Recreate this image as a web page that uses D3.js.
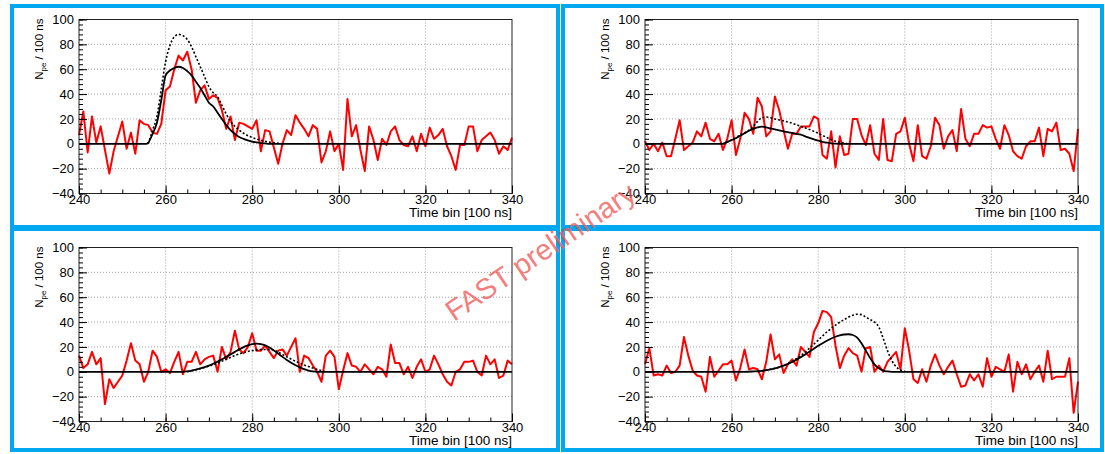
<!DOCTYPE html>
<meta charset="utf-8">
<style>
  body { margin: 0; background: #fff; }
  text { font-family: "Liberation Sans", Arial, sans-serif; }
  .grid line { stroke: #8a8a8a; stroke-width: 0.8; stroke-dasharray: 1,2; }
  .axis path { display: none; }
  .axis line { stroke: #000; stroke-width: 1; }
  .axis text { font-size: 13px; fill: #000; }
</style>
<svg width="1105" height="454"></svg>
<script src="https://d3js.org/d3.v7.min.js"></script>
<script>
  // time bins [100 ns]
  var bins = d3.range(240, 341);

  var xMajor = [240, 260, 280, 300, 320, 340];
  var xMinor = d3.range(240, 341, 5);
  var yMajor = [-40, -20, 0, 20, 40, 60, 80, 100];
  var yMinor = d3.range(-40, 101, 4);

  // measured signal, N_pe per bin (240..340)
  var data1 = [7, 26, -7, 22, 1, 14, -5, -24, -6, 6,
    18, -4, 9, -8, 19, 16, 15, 9, 8, 16,
    43, 46, 60, 71, 67, 74, 60, 33, 43, 47,
    36, 39, 37, 27, 12, 22, 3, 17, 16, 14,
    12, 19, -6, 11, 10, -3, -16, 0, 11, 7,
    23, 17, 12, 6, 15, 12, -15, -6, 10, -6,
    0, -21, 36, 6, 15, -5, -22, 14, 3, -13,
    4, -1, 10, 14, 3, -1, -2, 6, -6, 8,
    -2, 13, 4, 7, 12, -2, -10, -21, -1, -1,
    14, 14, -6, 3, 6, 9, 3, -8, -2, -5, 5];

  var data2 = [2, -5, 0, -6, 1, -10, -10, 4, 19, -5,
    -2, 1, 10, 6, 17, 4, 2, 8, -5, 4,
    19, -9, 4, 25, 20, 8, 37, 30, 6, 10,
    38, 27, 11, -4, 8, 8, 14, 14, 14, 22,
    20, -9, -12, 10, -19, 6, -9, -8, 20, 20,
    7, -1, 15, -8, -13, 20, -13, -14, 8, 10,
    21, 0, -14, 15, -10, -12, -2, 21, 15, -4,
    6, 11, -6, 28, 4, -2, 8, 8, 15, 13,
    14, 4, -4, 15, 7, -6, -10, -12, -2, 2,
    2, 13, -10, 12, 10, 17, -5, -4, -8, -22, 12];

  var data3 = [13, 3, 6, 16, 6, 11, -26, -6, -13, -8,
    -3, 9, 23, 9, 6, -8, 0, 17, 12, 0,
    2, -1, 8, 16, -2, 8, 8, 16, 6, 10,
    12, 13, 0, 20, 10, 16, 33, 18, 15, 20,
    31, 17, 17, 21, 16, 11, 17, 18, 13, 20,
    27, 0, 13, 11, 5, 0, -8, 13, 17, 12,
    -14, 1, 15, 5, 4, 0, 6, 2, -2, 4,
    2, -4, 22, 7, 7, -2, 4, -5, 4, 10,
    0, 2, 13, 6, -2, -8, -11, 0, 2, 8,
    8, 9, 0, -3, 13, 6, 10, -5, -3, 9, 6];

  var data4 = [6, 19, -3, -2, -3, 5, -1, 0, 5, 28,
    13, 1, -3, -4, -16, 12, -4, 1, 6, 6,
    9, -7, 3, 18, 2, 3, 2, -6, 8, 30,
    10, 14, -1, 6, 10, 5, 20, 16, 12, 32,
    39, 49, 48, 44, 21, 3, 13, 19, 15, 13,
    0, 19, 20, 0, 5, 0, 8, 12, 16, 2,
    35, 17, -6, -9, 2, -8, 5, 14, 5, -2,
    4, 9, -2, -12, -11, -2, -7, -2, -12, 11,
    -4, 4, 2, 0, 14, -16, 8, -2, 6, -6,
    0, 5, -8, 17, -6, -4, -4, -4, 11, -33, -8];

  // fitted pulse (solid) as [bin, value]
  var fit1 = [[240, 0], [255.5, 0], [256, 1], [257, 8], [258, 17], [259, 35], [260, 55], [261, 59], [262, 61],
    [263, 62], [264, 61], [265, 58.5], [266, 55], [267, 50], [268, 45], [269, 39], [270, 33], [271, 30],
    [272, 25], [273, 20], [274, 15], [275, 11], [276, 8], [277, 5.5], [278, 4], [279, 2.8], [280, 1.8],
    [281, 1.1], [282, 0.6], [283, 0.3], [284, 0], [340, 0]];
  var fit2 = [[240, 0], [258, 0], [259, 1.5], [260, 3], [261, 4.5], [262, 6.5], [263, 8.5], [264, 10.5],
    [265, 12], [266, 13.2], [267, 13.8], [268, 13.2], [269, 12.3], [270, 11.5], [271, 10.8], [272, 10],
    [273, 9.3], [274, 8.7], [275, 8], [276, 7.3], [277, 6], [278, 4.8], [279, 3.6], [280, 2.5], [281, 1.6],
    [282, 0.9], [283, 0.4], [284, 0.1], [285, 0], [340, 0]];
  var fit3 = [[240, 0], [264, 0], [265, 0.4], [266, 1], [267, 1.8], [268, 2.7], [269, 3.8], [270, 5],
    [271, 6.5], [272, 8.2], [273, 10], [274, 12], [275, 14], [276, 16], [277, 18], [278, 19.8], [279, 21.2],
    [280, 22.2], [281, 22.6], [282, 22.3], [283, 21.3], [284, 19.5], [285, 17.2], [286, 14.6], [287, 12],
    [288, 9.5], [289, 7.2], [290, 5.2], [291, 3.5], [292, 2.1], [293, 1], [294, 0.3], [295, 0], [340, 0]];
  var fit4 = [[240, 0], [263, 0], [265, 0.3], [267, 0.8], [268, 1.3], [269, 2], [270, 2.8], [271, 3.8],
    [272, 5], [273, 6.4], [274, 8], [275, 9.8], [276, 11.8], [277, 14], [278, 16.3], [279, 18.6], [280, 20.9],
    [281, 23], [282, 25], [283, 26.8], [284, 28.2], [285, 29.3], [286, 30], [287, 30.2], [288, 29.6],
    [289, 27.5], [290, 23], [291, 17], [292, 11], [293, 6], [294, 2.8], [295, 1], [296, 0.3], [297, 0], [340, 0]];

  // expected pulse (dotted)
  var alt1 = [[256, 0], [257, 11], [258, 22], [259, 44], [260, 66], [261, 79], [262, 86], [263, 88], [264, 87],
    [265, 84], [266, 78], [267, 70], [268, 62], [269, 54], [270, 46], [271, 41], [272, 38], [273, 31],
    [274, 24], [275, 18], [276, 14], [277, 11], [278, 8.5], [279, 6.5], [280, 5], [281, 3.8], [282, 2.8],
    [283, 2], [284, 1.3], [285, 0.8], [286, 0.4], [287, 0]];
  var alt2 = [[258, 0], [260, 3], [262, 7], [264, 11], [265, 14], [266, 18], [267, 21], [268, 21.5], [269, 21],
    [270, 20], [272, 18.5], [274, 16.5], [276, 14], [278, 11.5], [280, 8.5], [282, 5], [284, 2], [286, 0.5], [287, 0]];
  var alt3 = [[265, 0], [266, 0.8], [268, 2.5], [270, 4.5], [272, 7], [274, 10], [276, 13], [278, 15.5],
    [280, 17], [282, 17.8], [284, 18], [285, 17.5], [286, 15.8], [288, 12], [290, 8.5], [292, 5.5],
    [294, 3], [296, 1], [297, 0]];
  var alt4 = [[266, 0], [268, 1.3], [270, 2.8], [272, 5], [274, 8.5], [276, 13], [278, 19], [280, 25.5],
    [282, 32], [284, 37.5], [286, 42], [288, 45.5], [289, 46.3], [290, 46], [291, 44], [292, 42], [293, 40],
    [294, 36], [295, 27], [296, 17], [297, 9], [298, 4], [299, 1.5], [300, 0.5]];

  var series = [
    { data: data1, fit: fit1, alt: alt1 },
    { data: data2, fit: fit2, alt: alt2 },
    { data: data3, fit: fit3, alt: alt3 },
    { data: data4, fit: fit4, alt: alt4 }
  ];

  // pad boxes and plot areas
  var layout = [
    { frame: [12, 6, 558, 227], plot: [79, 19.5, 512, 193.5] },
    { frame: [563, 6, 1102, 227], plot: [645, 19.5, 1078, 193.5] },
    { frame: [12, 229, 558, 450], plot: [79, 247.5, 512, 421.5] },
    { frame: [563, 229, 1102, 450], plot: [645, 247.5, 1078, 421.5] }
  ];

  var svg = d3.select("svg");

  series.forEach(function(s, i) {
    var L = layout[i].plot[0], T = layout[i].plot[1], R = layout[i].plot[2], B = layout[i].plot[3];
    var g = svg.append("g");

    var x = d3.scaleLinear().domain([240, 340]).range([L, R]);
    var y = d3.scaleLinear().domain([-40, 100]).range([B, T]);

    // grid
    var grid = g.append("g").attr("class", "grid");
    grid.selectAll("line.gx")
      .data(xMajor.slice(1, -1))
      .enter().append("line")
      .attr("x1", function(d) { return x(d); })
      .attr("x2", function(d) { return x(d); })
      .attr("y1", T).attr("y2", B);
    grid.selectAll("line.gy")
      .data(yMajor.slice(1, -1))
      .enter().append("line")
      .attr("y1", function(d) { return y(d); })
      .attr("y2", function(d) { return y(d); })
      .attr("x1", L).attr("x2", R);

    var line = d3.line()
      .x(function(d) { return x(d[0]); })
      .y(function(d) { return y(d[1]); });

    g.append("path")
      .datum(bins.map(function(t, k) { return [t, s.data[k]]; }))
      .attr("fill", "none")
      .attr("stroke", "#ff0000")
      .attr("stroke-width", 2)
      .attr("stroke-linejoin", "round")
      .attr("d", line);

    g.append("path")
      .datum(s.alt)
      .attr("fill", "none")
      .attr("stroke", "#000")
      .attr("stroke-width", 1.6)
      .attr("stroke-dasharray", "2,2")
      .attr("d", line.curve(d3.curveMonotoneX));

    g.append("path")
      .datum(s.fit)
      .attr("fill", "none")
      .attr("stroke", "#000")
      .attr("stroke-width", 1.8)
      .attr("d", line.curve(d3.curveMonotoneX));

    // frame
    g.append("rect")
      .attr("x", L).attr("y", T)
      .attr("width", R - L).attr("height", B - T)
      .attr("fill", "none")
      .attr("stroke", "#222")
      .attr("stroke-width", 1);

    // axes, ticks inside
    g.append("g").attr("class", "axis")
      .attr("transform", "translate(0," + B + ")")
      .call(d3.axisBottom(x).tickValues(xMinor).tickSize(-4).tickFormat(""));
    g.append("g").attr("class", "axis")
      .attr("transform", "translate(0," + B + ")")
      .call(d3.axisBottom(x).tickValues(xMajor).tickSize(-8).tickPadding(1.5).tickFormat(d3.format("d")));
    g.append("g").attr("class", "axis")
      .attr("transform", "translate(" + L + ",0)")
      .call(d3.axisLeft(y).tickValues(yMinor).tickSize(-4).tickFormat(""));
    g.append("g").attr("class", "axis")
      .attr("transform", "translate(" + L + ",0)")
      .call(d3.axisLeft(y).tickValues(yMajor).tickSize(-8).tickPadding(5).tickFormat(d3.format("d")));

    g.append("text")
      .attr("x", R)
      .attr("y", B + 23.5)
      .attr("text-anchor", "end")
      .style("font-size", "13.5px")
      .text("Time bin [100 ns]");

    var yt = g.append("text")
      .attr("transform", "translate(" + (L - 36) + "," + (T - 1) + ") rotate(-90)")
      .attr("text-anchor", "end")
      .style("font-size", "11.5px");
    yt.append("tspan").text("N");
    yt.append("tspan").attr("dy", 3).style("font-size", "8px").text("pe");
    yt.append("tspan").attr("dy", -3).text(" / 100 ns");

    // pad border
    var f = layout[i].frame;
    svg.append("rect")
      .attr("x", f[0]).attr("y", f[1])
      .attr("width", f[2] - f[0]).attr("height", f[3] - f[1])
      .attr("fill", "none")
      .attr("stroke", "#00a8f0")
      .attr("stroke-width", 4);
  });

  svg.append("text")
    .attr("transform", "translate(546,260) rotate(-34)")
    .attr("text-anchor", "middle")
    .style("font-size", "29px")
    .attr("fill", "#f05a5a")
    .attr("fill-opacity", 0.8)
    .text("FAST preliminary");
</script>
